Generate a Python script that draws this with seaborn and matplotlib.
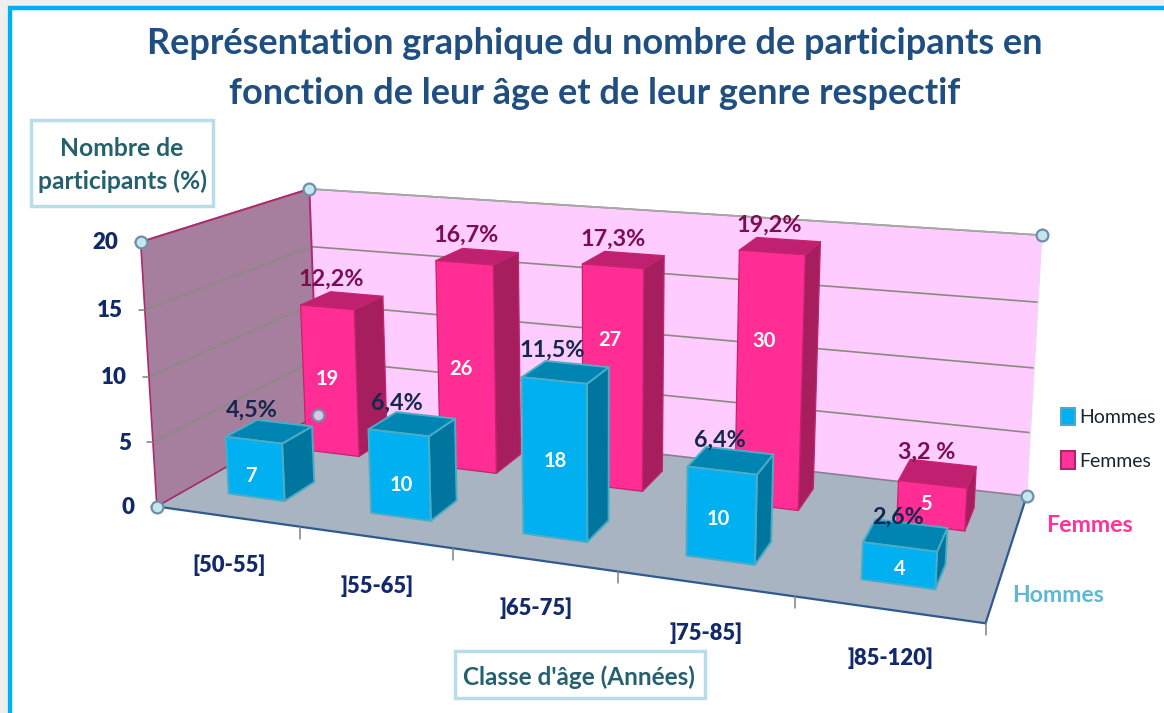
import numpy as np
import matplotlib
matplotlib.use("Agg")
import matplotlib.pyplot as plt
from matplotlib.patches import Patch, Rectangle, Polygon
import seaborn as sns

# ---------- data ----------
categories = ["[50-55]", "]55-65]", "]65-75]", "]75-85]", "]85-120]"]
hommes_pct = [4.5, 6.4, 11.5, 6.4, 2.6]
femmes_pct = [12.2, 16.7, 17.3, 19.2, 3.2]
hommes_n = [7, 10, 18, 10, 4]
femmes_n = [19, 26, 27, 30, 5]
hommes_lbl = ["4,5%", "6,4%", "11,5%", "6,4%", "2,6%"]
femmes_lbl = ["12,2%", "16,7%", "17,3%", "19,2%", "3,2 %"]
z_ticks = [0, 5, 10, 15, 20]
title = "Représentation graphique du nombre de participants en\nfonction de leur âge et de leur genre respectif"

# hand-placed count labels in the original (pixel nudges)
hommes_nudge = [(-3, 6), (2, 9), (2, 0), (-2, 2), (2, 2)]
femmes_nudge = [(-2, -3), (-5, 0), (-2, -40), (-4, -42), (-5, -3)]

sns.set_theme(style="white")
plt.rcParams["font.family"] = ["Lato", "DejaVu Sans"]
pal = sns.color_palette(["#00B0F0", "#FF3399"])
faces = {"H": ("#00B0F0", "#0084B2", "#00769E", "#4BACC6", 1.4),
         "F": ("#FF2D94", "#C02070", "#A61E5E", "#C4246E", 0.9)}

# ---------- projection: unit box -> screen ----------
anchors = [((0,0,0),(157,506)),((1,0,0),(985,625)),((1,1,0),(1027,494)),((0,1,0),(318,416)),
           ((0,0,1),(141,241)),((0,1,1),(309,189)),((1,1,1),(1042,236))]
A, b = [], []
for (x,y,z),(u,v) in anchors:
    A.append([x,y,z,1,0,0,0,0,-u*x,-u*y,-u*z]); b.append(u)
    A.append([0,0,0,0,x,y,z,1,-v*x,-v*y,-v*z]); b.append(v)
P = np.append(np.linalg.lstsq(np.array(A,float),np.array(b,float),rcond=None)[0],1).reshape(3,4)
ncat, ndepth, zmax = len(categories), 2, z_ticks[-1]
def pr(c, d, z):
    q = P @ np.array([c/ncat, d/ndepth, z/zmax, 1.0])
    return q[:2]/q[2]

fig = plt.figure(figsize=(11.64, 7.13), dpi=100, facecolor="white")
ax = fig.add_axes([0,0,1,1])
ax.set_xlim(0,1164); ax.set_ylim(713,0); ax.axis("off")

# outer frame
ax.add_patch(Rectangle((0,0),1164,6,fc="#EFEFEF",ec="none",zorder=0))
ax.add_patch(Rectangle((0,0),7,713,fc="#EFEFEF",ec="none",zorder=0))
ax.plot([9.5,9.5,1164],[713,7.5,7.5],color="#00B0F0",lw=3.2,solid_joinstyle="miter",zorder=1)

def poly(pts, fc, ec="none", lw=0.0, z=2):
    ax.add_patch(Polygon(np.array(pts), closed=True, fc=fc, ec=ec, lw=lw, zorder=z, joinstyle="round"))

# walls and floor
poly([pr(0,0,0),pr(0,ndepth,0),pr(0,ndepth,zmax),pr(0,0,zmax)],"#A67F9E")
poly([pr(0,ndepth,0),pr(ncat,ndepth,0),pr(ncat,ndepth,zmax),pr(0,ndepth,zmax)],"#FFCCFF")
poly([pr(0,0,0),pr(ncat,0,0),pr(ncat,ndepth,0),pr(0,ndepth,0)],"#A9B4C2")

def seg(a,b,**k):
    a,b=np.array(a),np.array(b); ax.plot([a[0],b[0]],[a[1],b[1]],**k)
for t in z_ticks[1:]:
    seg(pr(0,0,t),pr(0,ndepth,t),color="#8A8A80",lw=1.2,zorder=3)
    seg(pr(0,ndepth,t),pr(ncat,ndepth,t),color="#8A8A80",lw=1.2,zorder=3)
seg(pr(0,0,zmax),pr(0,ndepth,zmax),color="#B0286E",lw=1.4,zorder=3)
seg(pr(0,ndepth,0),pr(0,ndepth,zmax),color="#B0286E",lw=1.4,zorder=3)
seg(pr(0,0,0),pr(0,0,zmax),color="#B0286E",lw=1.2,zorder=3)
seg(pr(0,0,0),pr(0,ndepth,0),color="#A02870",lw=1.2,zorder=3)
seg(pr(0,ndepth,0),pr(ncat,ndepth,0),color="#8A7F90",lw=1.2,zorder=3)
seg(pr(0,ndepth,zmax),pr(ncat,ndepth,zmax),color="#A8A8A8",lw=1.2,zorder=3)
seg(pr(ncat,ndepth,0),pr(ncat,ndepth,zmax),color="#F0D8F0",lw=1,zorder=3)
seg(pr(0,0,0),pr(ncat,0,0),color="#2F5A8F",lw=1.6,zorder=3)
seg(pr(ncat,0,0),pr(ncat,ndepth,0),color="#2F5A8F",lw=1.6,zorder=3)

# axis ticks and labels
for i in range(ncat+1):
    p = pr(i,0,0)
    seg(p,p+[0,12 if i else 0],color="#808080",lw=1.1,zorder=3)
for t in z_ticks:
    p = pr(0,0,t)
    seg(p,p+[-6,0],color="#808080",lw=1.1,zorder=3)
    ax.text(p[0]-22,p[1]+1,str(t),ha="right",va="center",fontsize=16,fontweight="heavy",color="#0F2A66",zorder=9)
for i,c in enumerate(categories):
    p = pr(i+0.5,0,0)
    ax.text(p[0]+2,p[1]+49,c,ha="center",va="center",fontsize=15.8,fontweight="heavy",color="#12296B",zorder=9)

# bars
for (d0,d1),shift,vals,ns,lbls,nudge,kind,lc in (
    ((1.27,1.68),0.03,femmes_pct,femmes_n,femmes_lbl,femmes_nudge,"F","#7A0E4E"),
    ((0.35,0.72),0.0,hommes_pct,hommes_n,hommes_lbl,hommes_nudge,"H","#14284E")):
    z0 = 5 if kind=="F" else 6
    front, top, side, edge, elw = faces[kind]
    for i,(h,n,l,(dx,dy)) in enumerate(zip(vals,ns,lbls,nudge)):
        c0,c1 = i+0.29+shift, i+0.69+shift
        zb = z0 + i*0.01
        def fp(pts,fc): ax.add_patch(Polygon(np.array(pts),closed=True,fc=fc,ec=edge,lw=elw,zorder=zb,joinstyle="round"))
        fp([pr(c1,d0,0),pr(c1,d1,0),pr(c1,d1,h),pr(c1,d0,h)],side)
        fp([pr(c0,d0,h),pr(c1,d0,h),pr(c1,d1,h),pr(c0,d1,h)],top)
        fp([pr(c0,d0,0),pr(c1,d0,0),pr(c1,d0,h),pr(c0,d0,h)],front)
        m = (pr(c0,d0,h/2)+pr(c1,d0,h/2))/2
        ax.text(m[0]-1+dx,m[1]+1+dy,str(n),ha="center",va="center",fontsize=14.5,fontweight="bold",color="white",zorder=8)
        if kind=="F":
            t = pr((c0+c1)/2,(d0+d1)/2,h); px,py = t[0]-11,t[1]-21
        else:
            t = pr((c0+c1)/2,d0,h); px,py = t[0]-2,t[1]-30
        ax.text(px,py,l,ha="center",va="center",fontsize=16.8,fontweight="bold",color=lc,zorder=8)

# corner handles
for c,d,z,fc in ((0,0,zmax,"#C4E6EE"),(0,ndepth,zmax,"#C4E6EE"),(ncat,ndepth,zmax,"#C4E6EE"),
                 (ncat,ndepth,0,"#C4E6EE"),(0,0,0,"#C4E6EE"),(0,ndepth,0,"#D8C8E6")):
    p = pr(c,d,z)
    ax.plot([p[0]],[p[1]],marker="o",ms=8.5,mfc=fc,mec="#6E8FA8",mew=1.6,ls="none",zorder=9)

# title and boxes
ax.text(594.5,68.5,title,ha="center",va="center",fontsize=26.0,fontweight="bold",color="#1F4E80",linespacing=1.65,zorder=9)
ax.text(122,165,"Nombre de\nparticipants (%)",ha="center",va="center",fontsize=17.7,fontweight="bold",color="#25606E",linespacing=1.53,
        zorder=9)
ax.add_patch(Rectangle((31,120),182,86,fc="white",ec="#B7DEE8",lw=2.5,zorder=8))
ax.add_patch(Rectangle((455,651),250,47,fc="white",ec="#B7DEE8",lw=2.5,zorder=8))
ax.text(578.5,677,"Classe d'âge (Années)",ha="center",va="center",fontsize=17.5,fontweight="bold",color="#25606E",zorder=9)

# depth labels
ax.text(1089,525,"Femmes",ha="center",va="center",fontsize=16.7,fontweight="bold",color="#FF3399",zorder=9)
ax.text(1058.5,595,"Hommes",ha="center",va="center",fontsize=16.6,fontweight="bold",color="#5CB8D6",zorder=9)

# legend
leg = ax.legend(handles=[Patch(fc=pal[0],ec="#4BACC6",lw=1.5,label="Hommes"),Patch(fc=pal[1],ec="#B0246C",lw=1.5,label="Femmes")],
                loc="upper left",bbox_to_anchor=(1055/1164,1-402/713),bbox_transform=fig.transFigure,frameon=False,
                fontsize=14,handlelength=0.72,handleheight=1.0,handletextpad=0.22,labelspacing=1.3,borderpad=0.3,borderaxespad=0)
for t in leg.get_texts():
    t.set_color("#1A2530")
fig.savefig("out.png",dpi=100)
